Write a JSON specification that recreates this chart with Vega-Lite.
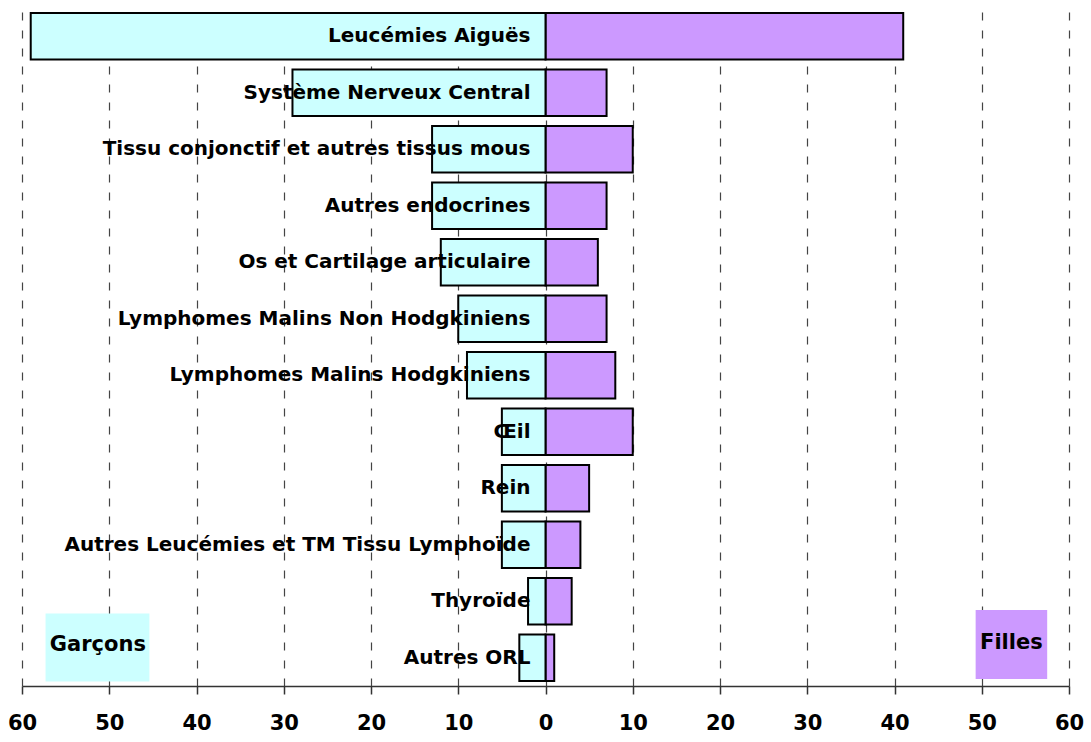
{
  "$schema": "https://vega.github.io/schema/vega-lite/v6.json",
  "width": 1047,
  "height": 678,
  "autosize": "none",
  "padding": {"left": 22, "top": 8, "right": 22, "bottom": 56},
  "background": "white",
  "config": {
    "view": {"stroke": null},
    "font": "DejaVu Sans",
    "text": {"font": "DejaVu Sans", "fontWeight": "bold"}
  },
  "data": {
    "values": [
      {"cat": "Leucémies Aiguës", "garcons": 59, "filles": 41},
      {"cat": "Système Nerveux Central", "garcons": 29, "filles": 7},
      {"cat": "Tissu conjonctif et autres tissus mous", "garcons": 13, "filles": 10},
      {"cat": "Autres endocrines", "garcons": 13, "filles": 7},
      {"cat": "Os et Cartilage articulaire", "garcons": 12, "filles": 6},
      {"cat": "Lymphomes Malins Non Hodgkiniens", "garcons": 10, "filles": 7},
      {"cat": "Lymphomes Malins Hodgkiniens", "garcons": 9, "filles": 8},
      {"cat": "Œil", "garcons": 5, "filles": 10},
      {"cat": "Rein", "garcons": 5, "filles": 5},
      {"cat": "Autres Leucémies et TM Tissu Lymphoïde", "garcons": 5, "filles": 4},
      {"cat": "Thyroïde", "garcons": 2, "filles": 3},
      {"cat": "Autres ORL", "garcons": 3, "filles": 1}
    ]
  },
  "encoding": {
    "y": {
      "field": "cat",
      "type": "nominal",
      "sort": null,
      "axis": null,
      "scale": {"paddingInner": 0.18, "paddingOuter": 0.09}
    }
  },
  "layer": [
    {
      "mark": {"type": "bar", "stroke": "black", "strokeWidth": 2, "orient": "horizontal"},
      "encoding": {
        "x": {"field": "filles", "type": "quantitative", "scale": {"domain": [-60, 60], "nice": false}, "axis": {
          "values": [-60, -50, -40, -30, -20, -10, 0, 10, 20, 30, 40, 50, 60],
          "labelExpr": "abs(datum.value)",
          "title": null,
          "grid": true,
          "gridDash": [8, 10],
          "gridColor": "#444444",
          "gridWidth": 1.2,
          "domainColor": "#333333",
          "domainWidth": 1.5,
          "tickColor": "#333333",
          "tickWidth": 1.5,
          "tickSize": 8,
          "labelPadding": 18,
          "labelFont": "DejaVu Sans",
          "labelFontWeight": "bold",
          "labelFontSize": 21,
          "labelColor": "black",
          "labelFlush": false,
          "labelOverlap": false
        }},
        "fill": {"value": "#CC99FF"}
      }
    },
    {
      "mark": {"type": "bar", "fill": "#CCFFFF", "stroke": "black", "strokeWidth": 2, "orient": "horizontal"},
      "encoding": {
        "x": {"field": "garcons", "type": "quantitative", "scale": {"domain": [-60, 60], "nice": false, "reverse": true}, "axis": null}
      }
    },
    {
      "mark": {"type": "text", "align": "right", "baseline": "middle", "dx": -15, "fontSize": 20, "fontWeight": "bold", "color": "black"},
      "encoding": {
        "x": {"datum": 0, "type": "quantitative", "scale": {"domain": [-60, 60], "nice": false}, "axis": null},
        "text": {"field": "cat"}
      }
    },
    {
      "data": {"values": [{"legend": "Garçons"}]},
      "mark": {"type": "bar", "fill": "#CCFFFF", "orient": "horizontal", "height": 68},
      "encoding": {
        "x": {"datum": -57.3, "type": "quantitative", "scale": {"domain": [-60, 60], "nice": false}, "axis": null},
        "x2": {"datum": -45.4},
        "y": {"datum": "Autres ORL", "type": "nominal"},
        "yOffset": {"value": 13}
      }
    },
    {
      "data": {"values": [{"legend": "Filles"}]},
      "mark": {"type": "bar", "fill": "#CC99FF", "orient": "horizontal", "height": 69},
      "encoding": {
        "x": {"datum": 49.3, "type": "quantitative", "scale": {"domain": [-60, 60], "nice": false}, "axis": null},
        "x2": {"datum": 57.5},
        "y": {"datum": "Autres ORL", "type": "nominal"},
        "yOffset": {"value": 10}
      }
    },
    {
      "data": {"values": [{"legend": "Garçons"}]},
      "mark": {"type": "text", "align": "center", "baseline": "middle", "fontSize": 21, "fontWeight": "bold", "color": "black", "dy": -13},
      "encoding": {
        "x": {"datum": -51.3, "type": "quantitative", "scale": {"domain": [-60, 60], "nice": false}, "axis": null},
        "y": {"datum": "Autres ORL", "type": "nominal"},
        "text": {"field": "legend"}
      }
    },
    {
      "data": {"values": [{"legend": "Filles"}]},
      "mark": {"type": "text", "align": "center", "baseline": "middle", "fontSize": 21, "fontWeight": "bold", "color": "black", "dy": -15},
      "encoding": {
        "x": {"datum": 53.4, "type": "quantitative", "scale": {"domain": [-60, 60], "nice": false}, "axis": null},
        "y": {"datum": "Autres ORL", "type": "nominal"},
        "text": {"field": "legend"}
      }
    }
  ],
  "resolve": {"scale": {"x": "independent"}}
}
